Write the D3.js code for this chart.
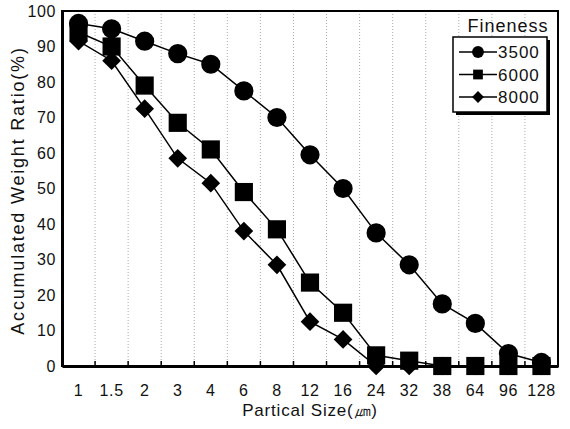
<!DOCTYPE html>
<html>
<head>
<meta charset="utf-8">
<script src="https://cdn.jsdelivr.net/npm/d3@7"></script>
<style>
  body { margin: 0; background: #fff; }
  text { font-family: "Liberation Sans", Arial, sans-serif; fill: #111; }
</style>
</head>
<body>
<svg id="chart"></svg>
<script>
var sizes = ["1", "1.5", "2", "3", "4", "6", "8", "12", "16", "24", "32", "38", "64", "96", "128"];
var fineness3500 = [96.5, 95, 91.5, 88, 85, 77.5, 70, 59.5, 50, 37.5, 28.5, 17.5, 12, 3.5, 1];
var fineness6000 = [94, 90, 79, 68.5, 61, 49, 38.5, 23.5, 15, 3, 1.5, 0, 0, 0, 0];
var fineness8000 = [91.5, 86, 72.5, 58.5, 51.5, 38, 28.5, 12.5, 7.5, 0, 0, 0, 0, 0, 0];
var yTicks = [0, 10, 20, 30, 40, 50, 60, 70, 80, 90, 100];

var series = [
    { name: "3500", values: fineness3500, shape: d3.symbolCircle, area: 290, rot: 0, legendArea: 110 },
    { name: "6000", values: fineness6000, shape: d3.symbolSquare, area: 330, rot: 0, legendArea: 95 },
    { name: "8000", values: fineness8000, shape: d3.symbolSquare, area: 175, rot: 45, legendArea: 70 }
];

var width = 570, height = 429;
var plotLeft = 62, plotRight = 558, plotTop = 11, plotBottom = 366;

var svg = d3.select("#chart")
    .attr("width", width)
    .attr("height", height);

var x = d3.scaleBand().domain(sizes).range([plotLeft, plotRight]);
var y = d3.scaleLinear().domain([0, 100]).range([plotBottom, plotTop]);

// dotted vertical grid at band edges
svg.append("g")
    .selectAll("line")
    .data(sizes.slice(1))
    .join("line")
    .attr("x1", function(d) { return x(d); })
    .attr("x2", function(d) { return x(d); })
    .attr("y1", plotTop)
    .attr("y2", plotBottom)
    .attr("stroke", "#aaa")
    .attr("stroke-width", 1)
    .attr("stroke-dasharray", "1,2");

// frame
svg.append("rect")
    .attr("x", plotLeft)
    .attr("y", plotTop)
    .attr("width", plotRight - plotLeft)
    .attr("height", plotBottom - plotTop)
    .attr("fill", "none")
    .attr("stroke", "#000")
    .attr("stroke-width", 2);

// y axis
var yAxis = svg.append("g")
    .attr("transform", "translate(" + plotLeft + ",0)")
    .call(d3.axisLeft(y).tickValues(yTicks).tickSize(0).tickPadding(6));
yAxis.select(".domain").attr("stroke", "#000").attr("stroke-width", 3);
yAxis.selectAll("text")
    .style("font-size", "16px")
    .style("letter-spacing", "0.6px")
    .style("font-family", "Liberation Sans, Arial, sans-serif");

// x axis
var xAxis = svg.append("g")
    .attr("transform", "translate(0," + plotBottom + ")")
    .call(d3.axisBottom(x).tickSize(0).tickPadding(19));
xAxis.select(".domain").attr("stroke", "#000").attr("stroke-width", 3);
xAxis.selectAll("text")
    .style("font-size", "16px")
    .style("letter-spacing", "0.6px")
    .style("font-family", "Liberation Sans, Arial, sans-serif");

// small tick marks at band edges
svg.append("g")
    .selectAll("line")
    .data(sizes.slice(1))
    .join("line")
    .attr("x1", function(d) { return x(d); })
    .attr("x2", function(d) { return x(d); })
    .attr("y1", plotBottom)
    .attr("y2", plotBottom - 5)
    .attr("stroke", "#000")
    .attr("stroke-width", 1.5);

var line = d3.line()
    .x(function(d, i) { return x(sizes[i]) + x.bandwidth() / 2; })
    .y(function(d) { return y(d); });

series.forEach(function(s) {
    svg.append("path")
        .datum(s.values)
        .attr("d", line)
        .attr("fill", "none")
        .attr("stroke", "#000")
        .attr("stroke-width", 1.5);
});

series.forEach(function(s) {
    svg.append("g")
        .selectAll("path")
        .data(s.values)
        .join("path")
        .attr("transform", function(d, i) {
            return "translate(" + (x(sizes[i]) + x.bandwidth() / 2) + "," + y(d) + ") rotate(" + s.rot + ")";
        })
        .attr("d", d3.symbol().type(s.shape).size(s.area))
        .attr("fill", "#000");
});

// axis titles
svg.append("text")
    .attr("x", (plotLeft + plotRight) / 2)
    .attr("y", 416)
    .attr("text-anchor", "middle")
    .style("font-size", "17px")
    .style("letter-spacing", "0.8px")
    .text("Partical Size(㎛)");

svg.append("text")
    .attr("transform", "translate(24," + ((plotTop + plotBottom) / 2 + 2) + ") rotate(-90)")
    .attr("text-anchor", "middle")
    .style("font-size", "18px")
    .style("letter-spacing", "1.8px")
    .text("Accumulated Weight Ratio(%)");

// legend
var legend = svg.append("g");
legend.append("rect")
    .attr("x", 456)
    .attr("y", 40)
    .attr("width", 94)
    .attr("height", 75)
    .attr("fill", "#000");
legend.append("rect")
    .attr("x", 453)
    .attr("y", 37)
    .attr("width", 94)
    .attr("height", 75)
    .attr("fill", "#fff")
    .attr("stroke", "#000")
    .attr("stroke-width", 1.5);
legend.append("text")
    .attr("x", 508)
    .attr("y", 32)
    .attr("text-anchor", "middle")
    .style("font-size", "18px")
    .style("letter-spacing", "1px")
    .text("Fineness");

series.forEach(function(s, i) {
    var ly = 52 + i * 22.5;
    legend.append("line")
        .attr("x1", 459)
        .attr("x2", 497)
        .attr("y1", ly)
        .attr("y2", ly)
        .attr("stroke", "#000")
        .attr("stroke-width", 1.5);
    legend.append("path")
        .attr("transform", "translate(478," + ly + ") rotate(" + s.rot + ")")
        .attr("d", d3.symbol().type(s.shape).size(s.legendArea))
        .attr("fill", "#000");
    legend.append("text")
        .attr("x", 498)
        .attr("y", ly)
        .attr("dy", "0.36em")
        .style("font-size", "17px")
        .style("letter-spacing", "1px")
        .text(s.name);
});
</script>
</body>
</html>
